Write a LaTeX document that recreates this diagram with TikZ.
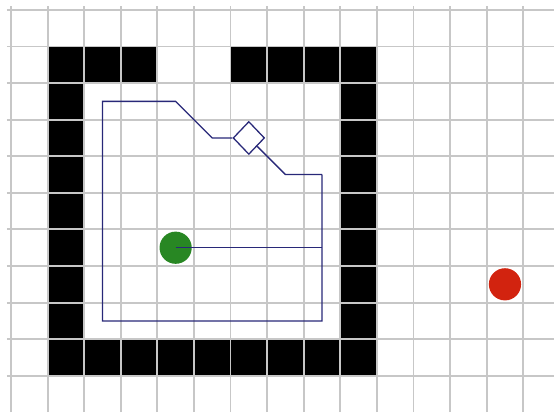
\documentclass[tikz,border=0pt]{standalone}
\usepackage{tikz}
\usetikzlibrary{shapes.geometric}
\definecolor{routeblue}{RGB}{40,40,120}
\definecolor{startgreen}{RGB}{40,135,35}
\definecolor{goalred}{RGB}{210,35,15}
\tikzset{
  wall/.style   ={fill=black},
  gridln/.style ={draw=black!22, line width=1.5pt},
  route/.style  ={draw=routeblue, line width=1pt},
  startpt/.style={circle, fill=startgreen, minimum size=8.8mm, inner sep=0pt},
  goalpt/.style ={circle, fill=goalred, minimum size=8.8mm, inner sep=0pt},
  probe/.style  ={diamond, draw=routeblue, fill=white, line width=1pt,
                  minimum width=8.6mm, minimum height=9mm, inner sep=0pt},
}

\begin{document}
\begin{tikzpicture}[y=-1cm]
  \useasboundingbox (-0.3,-0.27) rectangle (14.84,10.99);
  % walls
  \foreach \c in {1,...,9} {
    \fill[wall] (\c,9) rectangle ++(1,1);
    \fill[wall] (1,\c) rectangle ++(1,1);
    \fill[wall] (9,\c) rectangle ++(1,1);
  }
  \foreach \c in {2,3,6,7,8} \fill[wall] (\c,1) rectangle ++(1,1);
  \draw[gridln] (-0.11,-0.11) grid (14.84,10.99);

  \node[startpt] (start) at (4.5,6.5) {};
  \node[goalpt]  (goal)  at (13.5,7.5) {};
  \node[probe]   (probe) at (6.5,3.5) {};
  \coordinate (w1) at (2.5,2.5);
  \coordinate (w2) at (4.5,2.5);
  \coordinate (w3) at (5.5,3.5);
  \coordinate (w4) at (7.5,4.5);
  \coordinate (w5) at (8.5,4.5);
  \coordinate (w6) at (8.5,8.5);
  \coordinate (w7) at (2.5,8.5);
  \coordinate (jn) at (8.5,6.5);
  \draw[route] (w5) -- (w6) -- (w7) -- (w1) -- (w2) -- (w3) -- (probe) -- (w4) -- (w5);
  \draw[route] (start.center) -- (jn);
\end{tikzpicture}
\end{document}
